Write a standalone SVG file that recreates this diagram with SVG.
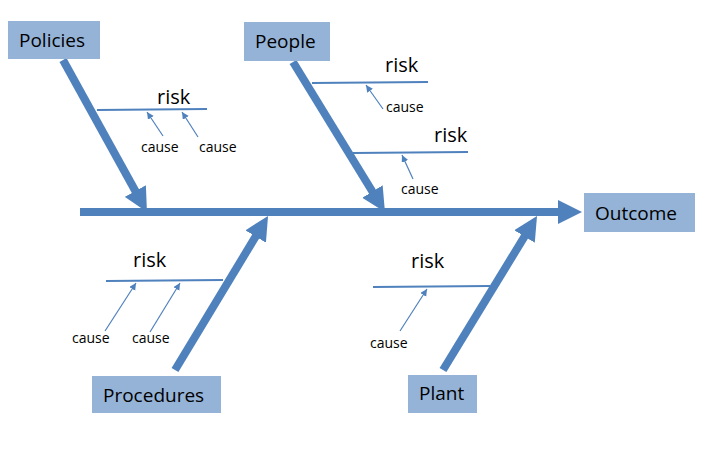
<svg xmlns="http://www.w3.org/2000/svg" width="724" height="467" viewBox="0 0 724 467">
<style>
.box{fill:#95B3D7;}
.lbl{font-family:"Open Sans","Liberation Sans",sans-serif;font-size:19px;fill:#000;}
.risk{font-family:"Open Sans","Liberation Sans",sans-serif;font-size:20px;fill:#000;}
.cause{font-family:"Open Sans","Liberation Sans",sans-serif;font-size:14px;fill:#000;}
.bone{stroke:#4F81BD;stroke-width:8;fill:none;marker-end:url(#big);}
.rl{stroke:#4F81BD;stroke-width:2.2;fill:none;}
.cl{stroke:#4F81BD;stroke-width:1.2;fill:none;marker-end:url(#small);}
</style>
<defs>
<marker id="big" markerUnits="userSpaceOnUse" markerWidth="24" markerHeight="24" refX="4" refY="12" orient="auto" viewBox="0 0 24 24">
<path d="M0,0 L24,12 L0,24 z" fill="#4F81BD"/>
</marker>
<marker id="small" markerUnits="userSpaceOnUse" markerWidth="8" markerHeight="8" refX="7" refY="3.5" orient="auto" viewBox="0 0 8 8">
<path d="M0,0 L7,3.5 L0,7 z" fill="#4F81BD"/>
</marker>
</defs>
<rect width="724" height="467" fill="#fff"/>
<g id="connectors">
<line class="bone" x1="80" y1="212" x2="562" y2="212"/>
<line class="bone" x1="63" y1="60" x2="137.3" y2="194.5"/>
<line class="bone" x1="293" y1="62" x2="374.5" y2="195"/>
<line class="bone" x1="175" y1="370" x2="257.7" y2="233.1"/>
<line class="bone" x1="443" y1="370" x2="526.6" y2="233.1"/>
</g>
<g id="policies">
<rect class="box" x="8" y="21" width="92" height="38"/>
<text class="lbl" x="19" y="47">Policies</text>
</g>
<g id="people">
<rect class="box" x="244" y="22" width="86" height="39"/>
<text class="lbl" x="255" y="48">People</text>
</g>
<g id="outcome">
<rect class="box" x="584" y="193" width="111" height="39"/>
<text class="lbl" x="595" y="220">Outcome</text>
</g>
<g id="procedures">
<rect class="box" x="92" y="376" width="129" height="37"/>
<text class="lbl" x="103" y="402">Procedures</text>
</g>
<g id="plant">
<rect class="box" x="408" y="375" width="69" height="38"/>
<text class="lbl" x="419" y="400">Plant</text>
</g>
<g id="policies-risk">
<line class="rl" x1="97" y1="110" x2="207" y2="109"/>
<text class="risk" x="157" y="104">risk</text>
<line class="cl" x1="163" y1="136" x2="147" y2="112"/>
<line class="cl" x1="198" y1="137" x2="182" y2="112"/>
<text class="cause" x="141" y="152">cause</text>
<text class="cause" x="199" y="152">cause</text>
</g>
<g id="people-risk-1">
<line class="rl" x1="312" y1="83" x2="428" y2="82"/>
<text class="risk" x="385" y="72">risk</text>
<line class="cl" x1="383" y1="109" x2="366" y2="85"/>
<text class="cause" x="386" y="112">cause</text>
</g>
<g id="people-risk-2">
<line class="rl" x1="353" y1="153" x2="468" y2="152"/>
<text class="risk" x="434" y="142">risk</text>
<line class="cl" x1="413" y1="179" x2="402" y2="155"/>
<text class="cause" x="401" y="194">cause</text>
</g>
<g id="procedures-risk">
<line class="rl" x1="106" y1="281" x2="223" y2="280"/>
<text class="risk" x="133" y="267">risk</text>
<line class="cl" x1="105" y1="331" x2="136" y2="283"/>
<line class="cl" x1="150" y1="332" x2="180" y2="283"/>
<text class="cause" x="72" y="343">cause</text>
<text class="cause" x="132" y="343">cause</text>
</g>
<g id="plant-risk">
<line class="rl" x1="373" y1="287" x2="490" y2="286"/>
<text class="risk" x="411" y="268">risk</text>
<line class="cl" x1="400" y1="331" x2="427" y2="289"/>
<text class="cause" x="370" y="348">cause</text>
</g>
</svg>
